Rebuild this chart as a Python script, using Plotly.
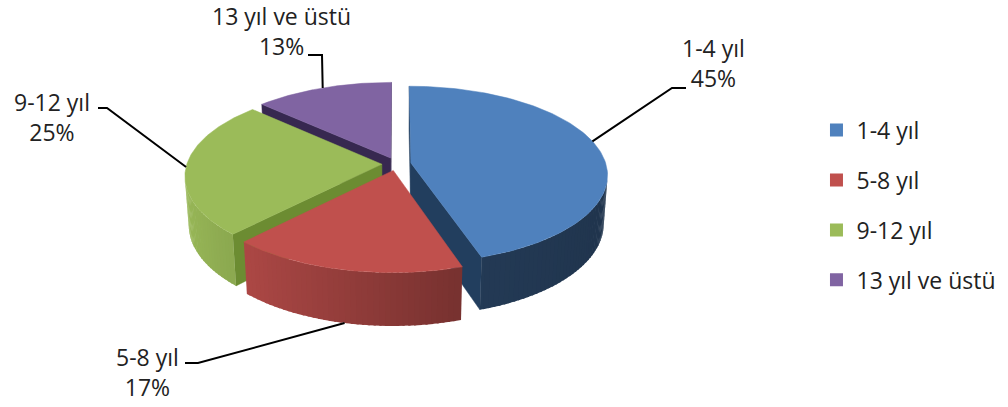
import numpy as np
import plotly.graph_objects as go

# ---------------- data ----------------
categories = ["1-4 yıl", "5-8 yıl", "9-12 yıl", "13 yıl ve üstü"]
values = [45, 17, 25, 13]
pct_labels = ["45%", "17%", "25%", "13%"]

# ---------------- style ----------------
top_colors = ["#4F81BD", "#C0504D", "#9BBB59", "#8064A2"]
wall_colors = ["#223E5E", "#7E2A28", "#6C8C32", "#372850"]
side_k = [(0.47, 0.06), (0.71, 0.28), (0.71, 0.28), (0.71, 0.28)]  # shade = a - b*cos(theta)
FONT = "Open Sans"
FSIZE = 23

W, H_PX = 1008, 407
CX, CY = 396.5, 164.0       # pie centre on screen (px)
RX = 195.0                  # horizontal radius at mid depth (px)
PHI = np.radians(26.5)      # elevation
DIST = 6.86                 # camera distance (in radii)
DEPTH = 0.28                # pie thickness (in radii)
EXPLODE = 0.075             # slice explosion (in radii)
F = RX * DIST
c, s = np.cos(PHI), np.sin(PHI)
CAM = np.array([0.0, DIST * s, -DIST * c])


def proj(X, Y, Z):
    X, Y, Z = np.asarray(X, float), np.asarray(Y, float), np.asarray(Z, float)
    yc = Y * c + Z * s
    zc = DIST + Z * c - Y * s
    return CX + F * X / zc, CY - F * yc / zc


def shade(hexcol, k):
    h = hexcol.lstrip("#")
    r, g, b = (int(h[i:i + 2], 16) for i in (0, 2, 4))
    return "rgb(%d,%d,%d)" % (min(255, r * k), min(255, g * k), min(255, b * k))


total = float(sum(values))
slices = []
cum = 0.0
for i, v in enumerate(values):
    a1 = 90.0 - 360.0 * cum / total
    a0 = a1 - 360.0 * v / total
    cum += v
    m = np.radians((a0 + a1) / 2)
    slices.append(dict(i=i, a0=a0, a1=a1, mid=(a0 + a1) / 2,
                       ox=EXPLODE * np.cos(m), oz=EXPLODE * np.sin(m)))

fig = go.Figure()


def poly(xs, ys, color, lw=0.0):
    xs = list(xs) + [xs[0]]
    ys = list(ys) + [ys[0]]
    fig.add_trace(go.Scatter(x=xs, y=ys, mode="lines", fill="toself",
                             fillcolor=color, line=dict(color=color, width=lw),
                             hoverinfo="skip", showlegend=False))


def visible(normal, point):
    return np.dot(normal, CAM - point) > 0


STEP = 1.5
OVER = np.radians(0.6)
# far to near
order = sorted(slices, key=lambda d: -np.sin(np.radians(d["mid"])))
for sl in order:
    i, a0, a1, ox, oz = sl["i"], sl["a0"], sl["a1"], sl["ox"], sl["oz"]
    # radial walls
    for ang, nsign in ((a1, +1), (a0, -1)):
        t = np.radians(ang)
        nang = t + nsign * np.pi / 2
        normal = np.array([np.cos(nang), 0.0, np.sin(nang)])
        pm = np.array([ox + 0.5 * np.cos(t), -DEPTH / 2, oz + 0.5 * np.sin(t)])
        if visible(normal, pm):
            X = [ox, ox + np.cos(t), ox + np.cos(t), ox]
            Y = [0, 0, -DEPTH, -DEPTH]
            Z = [oz, oz + np.sin(t), oz + np.sin(t), oz]
            px, py = proj(X, Y, Z)
            poly(px, py, wall_colors[i], 0.5)
    # outer side, segmented for shading (segments overlap slightly to hide seams)
    n = max(2, int(np.ceil((a1 - a0) / STEP)))
    edges = np.radians(np.linspace(a0, a1, n + 1))
    ka, kb = side_k[i]
    for j, (t0, t1) in enumerate(zip(edges[:-1], edges[1:])):
        tm = (t0 + t1) / 2
        normal = np.array([np.cos(tm), 0.0, np.sin(tm)])
        pm = np.array([ox + np.cos(tm), -DEPTH / 2, oz + np.sin(tm)])
        if not visible(normal, pm):
            continue
        u0 = t0 if j == 0 else t0 - OVER
        u1 = t1
        X = [ox + np.cos(u0), ox + np.cos(u1), ox + np.cos(u1), ox + np.cos(u0)]
        Y = [0, 0, -DEPTH, -DEPTH]
        Z = [oz + np.sin(u0), oz + np.sin(u1), oz + np.sin(u1), oz + np.sin(u0)]
        px, py = proj(X, Y, Z)
        poly(px, py, shade(top_colors[i], ka - kb * np.cos(tm)))
    # top face
    th = np.radians(np.linspace(a0, a1, 120))
    X = np.concatenate([[ox], ox + np.cos(th)])
    Z = np.concatenate([[oz], oz + np.sin(th)])
    px, py = proj(X, np.zeros_like(X), Z)
    poly(px, py, top_colors[i], 0.5)

# legend entries
for i, cat in enumerate(categories):
    fig.add_trace(go.Scatter(x=[None], y=[None], mode="markers", name=cat,
                             legendgroup=cat,
                             marker=dict(symbol="square", size=13, color=top_colors[i])))

# data labels with leader lines
label_pos = [(713, 63), (147, 372), (52, 117), (281, 31)]
elbows = [((672, 88), (686, 88)), ((198, 363), (185, 363)),
          ((107, 108), (98, 108)), ((322, 55), (308, 55))]
attach = [("top", 15.0), ("bottom", None), ("top", None), ("top", None)]

shapes, annotations = [], []
for sl in slices:
    i = sl["i"]
    face, ang = attach[i]
    ang = sl["mid"] if ang is None else ang
    t = np.radians(ang)
    yy = 0.0 if face == "top" else -DEPTH
    px, py = proj(sl["ox"] + np.cos(t), yy, sl["oz"] + np.sin(t))
    (ex, ey), (hx, hy) = elbows[i]
    shapes.append(dict(type="path", xref="x", yref="y",
                       path="M %.1f,%.1f L %.1f,%.1f L %.1f,%.1f" % (px, py, ex, ey, hx, hy),
                       line=dict(color="black", width=2), layer="above"))
    lx, ly = label_pos[i]
    annotations.append(dict(x=lx, y=ly, xref="x", yref="y", showarrow=False,
                            text=categories[i] + "<br>" + pct_labels[i],
                            align="center", xanchor="center", yanchor="middle",
                            font=dict(family=FONT, size=FSIZE, color="#222222")))

fig.update_layout(
    width=W, height=H_PX,
    margin=dict(l=0, r=0, t=0, b=0),
    paper_bgcolor="white", plot_bgcolor="white",
    xaxis=dict(range=[0, W], visible=False, fixedrange=True),
    yaxis=dict(range=[H_PX, 0], visible=False, fixedrange=True),
    shapes=shapes, annotations=annotations,
    showlegend=True,
    legend=dict(x=0.81, y=0.496, xanchor="left", yanchor="middle",
                font=dict(family=FONT, size=FSIZE, color="#222222"),
                tracegroupgap=17, traceorder="grouped",
                bgcolor="rgba(0,0,0,0)"),
    hovermode=False,
)

fig.write_html("out.html", config={"displayModeBar": False},
               post_script="document.body.style.margin='0';document.body.style.overflow='hidden';")
